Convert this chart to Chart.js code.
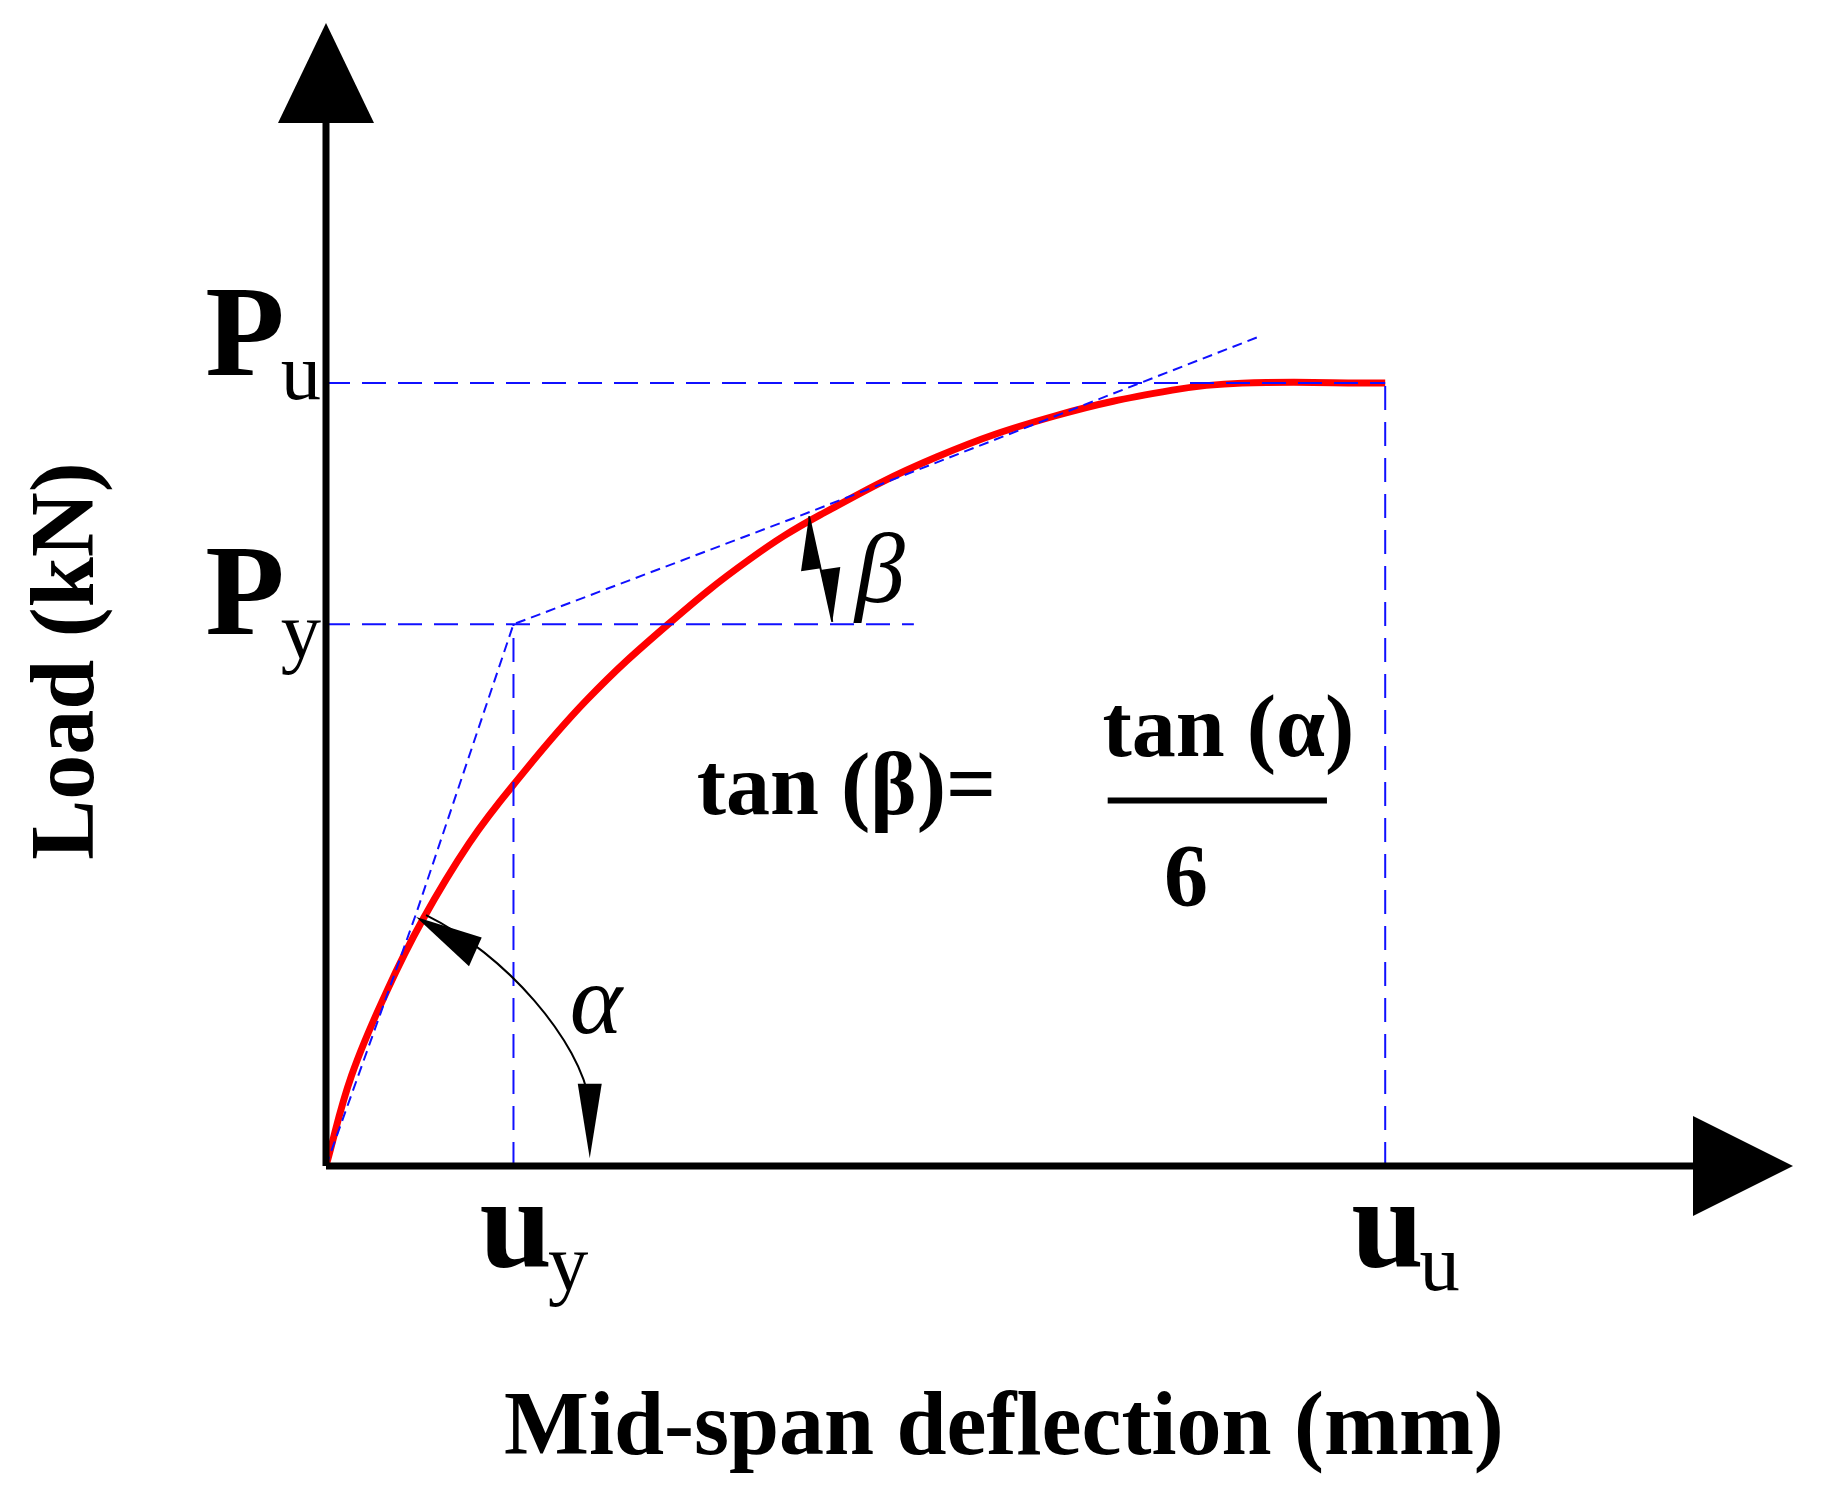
<!DOCTYPE html>
<html><head><meta charset="utf-8">
<script src="https://cdn.jsdelivr.net/npm/chart.js@4/dist/chart.umd.min.js"></script>
<style>html,body{margin:0;padding:0;background:#fff}canvas{display:block}</style>
</head><body>
<div style="width:1828px;height:1506px"><canvas id="chart"></canvas></div>
<script>
// load-deflection curve, x in units with Uu = 10, y with Pu = 10
const curveX = [0, 0.24, 0.58, 0.91, 1.35, 1.77, 2.46, 3.23, 4.0, 4.67, 5.77, 6.88, 7.99, 8.65, 10];
const curveY = [0, 1.15, 2.25, 3.14, 4.12, 4.87, 5.95, 6.92, 7.75, 8.32, 9.06, 9.58, 9.91, 10, 10];
// idealised bilinear line (secant + tangent)
const idealX = [0, 0.85, 1.77, 4.56, 8.82];
const idealY = [0, 3.22, 6.92, 8.35, 10.6];
const Uy = 1.77, Uu = 10, Py = 6.92, Pu = 10;
const xMax = 13.85, yMax = 14.6;

const pts = (xs, ys) => xs.map((x, i) => ({x, y: ys[i]}));
const SERIF = '"Liberation Serif", "DejaVu Serif", serif';

const decor = {
  id: 'decor',
  afterDatasetsDraw(chart) {
    const c = chart.ctx, sx = chart.scales.x, sy = chart.scales.y;
    const X = v => sx.getPixelForValue(v), Y = v => sy.getPixelForValue(v);
    const x0 = X(0), y0 = Y(0);
    c.save();
    c.fillStyle = '#000'; c.strokeStyle = '#000';
    // axes
    c.lineWidth = 7;
    c.beginPath(); c.moveTo(x0, y0); c.lineTo(X(xMax) - 90, y0); c.stroke();
    c.beginPath(); c.moveTo(x0, y0); c.lineTo(x0, Y(yMax) + 95); c.stroke();
    c.beginPath(); c.moveTo(X(xMax), y0); c.lineTo(X(xMax) - 100, y0 - 50); c.lineTo(X(xMax) - 100, y0 + 50); c.closePath(); c.fill();
    c.beginPath(); c.moveTo(x0, Y(yMax)); c.lineTo(x0 - 48, Y(yMax) + 100); c.lineTo(x0 + 48, Y(yMax) + 100); c.closePath(); c.fill();

    // alpha arc with arrowheads
    c.lineWidth = 2;
    const ax = X(0.85), ay = Y(3.18), bx = X(2.49), by = Y(0.1);
    c.beginPath(); c.moveTo(ax + 10, ay - 2);
    c.bezierCurveTo(X(1.7), Y(2.7), X(2.4), Y(1.6), bx, Y(0.8)); c.stroke();
    c.beginPath(); c.moveTo(ax, ay); c.lineTo(X(1.47), Y(2.92)); c.lineTo(X(1.35), Y(2.55)); c.closePath(); c.fill();
    c.beginPath(); c.moveTo(bx, by); c.lineTo(bx - 12, Y(1.05)); c.lineTo(bx + 12, Y(1.05)); c.closePath(); c.fill();
    // beta double arrow
    const b1x = X(4.56), b1y = Y(8.3), b2x = X(4.78), b2y = Y(6.95);
    c.beginPath(); c.moveTo(b1x, b1y); c.lineTo(b2x, b2y); c.stroke();
    c.beginPath(); c.moveTo(b1x, b1y); c.lineTo(b1x - 8, b1y + 55); c.lineTo(b1x + 12, b1y + 52); c.closePath(); c.fill();
    c.beginPath(); c.moveTo(b2x, b2y); c.lineTo(b2x - 12, b2y - 52); c.lineTo(b2x + 8, b2y - 55); c.closePath(); c.fill();

    // labels
    const sub = (main, s, px, py, size) => {
      c.font = 'bold ' + size + 'px ' + SERIF;
      c.textAlign = 'left'; c.textBaseline = 'alphabetic';
      const w = c.measureText(main).width;
      c.fillText(main, px, py);
      c.font = (size * 0.62) + 'px ' + SERIF;
      c.fillText(s, px + w - 4, py + size * 0.18);
    };
    sub('P', 'u', X(-1.14), Y(Pu) - 8, 130);
    sub('P', 'y', X(-1.14), Y(Py) + 10, 130);
    sub('u', 'y', X(1.45), Y(-1.28), 130);
    sub('u', 'u', X(9.68), Y(-1.28), 130);

    c.font = 'bold 90px ' + SERIF;
    c.textAlign = 'center';
    c.fillText('Mid-span deflection (mm)', X(6.4), Y(-3.68));
    c.save(); c.translate(X(-2.2), Y(6.45)); c.rotate(-Math.PI / 2);
    c.fillText('Load (kN)', 0, 0); c.restore();

    c.font = 'bold 88px ' + SERIF; c.textAlign = 'left';
    c.fillText('tan (β)=', X(3.5), Y(4.5));
    c.textAlign = 'center';
    c.fillText('tan (α)', X(8.52), Y(5.24));
    c.fillText('6', X(8.12), Y(3.33));
    c.lineWidth = 6;
    c.beginPath(); c.moveTo(X(7.38), Y(4.67)); c.lineTo(X(9.45), Y(4.67)); c.stroke();
    c.font = 'italic 100px ' + SERIF;
    c.fillText('α', X(2.55), Y(1.7));
    c.fillText('β', X(5.23), Y(7.2));
    c.restore();
  }
};

const dash = {borderColor: '#1010ff', borderWidth: 2, borderDash: [24, 12], pointRadius: 0, fill: false, tension: 0};

new Chart(document.getElementById('chart'), {
  type: 'scatter',
  data: {
    datasets: [
      {...dash, showLine: true, data: pts([0, Uu], [Pu, Pu])},
      {...dash, showLine: true, data: pts([0, 5.55], [Py, Py])},
      {...dash, showLine: true, data: pts([Uy, Uy], [0, Py])},
      {...dash, showLine: true, data: pts([Uu, Uu], [0, Pu])},
      {...dash, showLine: true, borderDash: [10, 6], data: pts(idealX, idealY)},
      {showLine: true, data: pts(curveX, curveY), borderColor: '#ff0000', borderWidth: 7,
       pointRadius: 0, tension: 0.4}
    ]
  },
  options: {
    responsive: true, maintainAspectRatio: false, animation: false,
    layout: {padding: {left: 326, right: 35, top: 23, bottom: 340}},
    plugins: {legend: {display: false}, tooltip: {enabled: false}},
    scales: {
      x: {type: 'linear', min: 0, max: xMax, display: false},
      y: {type: 'linear', min: 0, max: yMax, display: false}
    }
  },
  plugins: [decor]
});
</script>
</body></html>
